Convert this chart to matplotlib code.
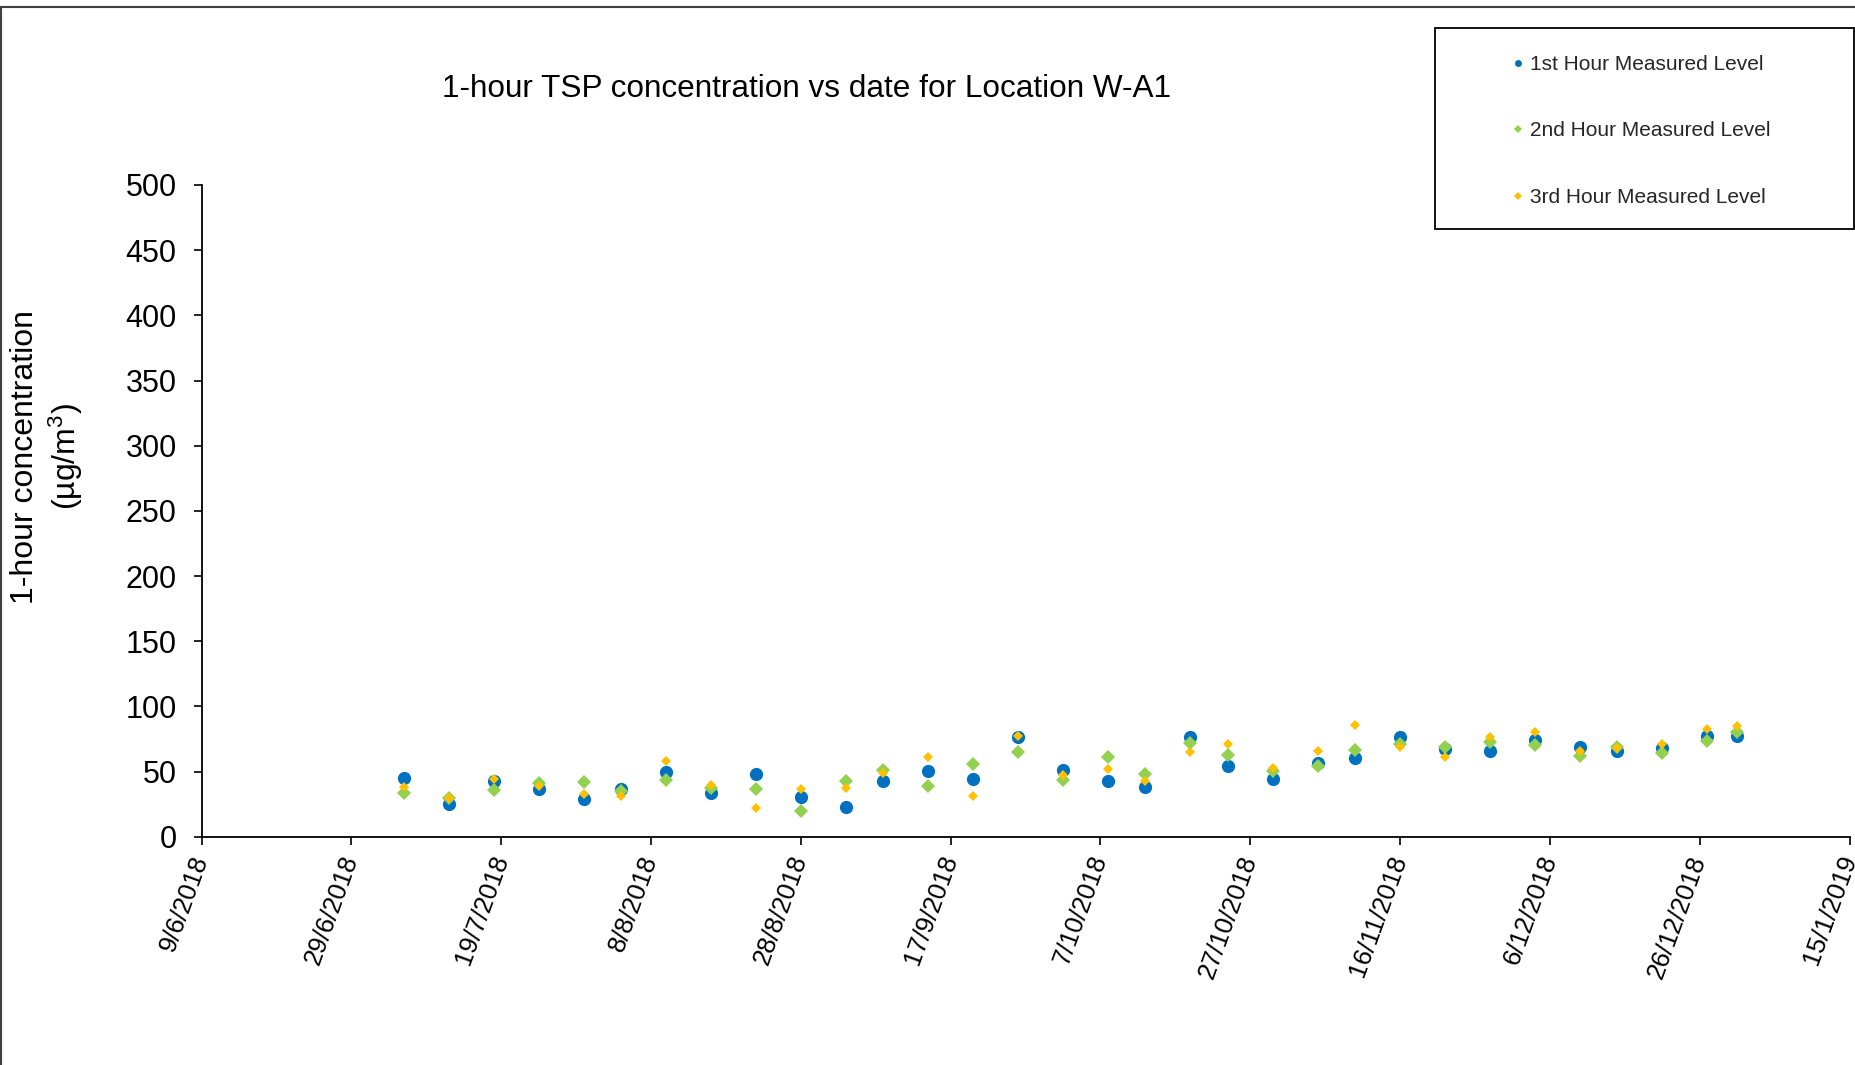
import datetime as dt
import matplotlib
matplotlib.use("Agg")
import matplotlib.pyplot as plt
from matplotlib.patches import Rectangle
from matplotlib.lines import Line2D

plt.rcParams["font.family"] = ["Liberation Sans", "DejaVu Sans"]
plt.rcParams["mathtext.default"] = "regular"

# sampling dates (day, month) in 2018
days = [6, 12, 18, 24, 30, 4, 10, 16, 22, 28, 3, 8, 14, 20, 26, 2,
        8, 13, 19, 24, 30, 5, 10, 16, 22, 28, 4, 10, 15, 21, 27, 31]
months = [7, 7, 7, 7, 7, 8, 8, 8, 8, 8, 9, 9, 9, 9, 9, 10,
          10, 10, 10, 10, 10, 11, 11, 11, 11, 11, 12, 12, 12, 12, 12, 12]

hour1 = [45.3, 25.1, 42.7, 36.3, 28.7, 36.3, 49.9, 33.3, 47.8, 30.7, 23.0,
         42.7, 50.6, 44.0, 76.2, 51.1, 42.9, 37.9, 76.7, 54.2, 44.0, 56.5,
         60.1, 76.7, 67.0, 66.0, 74.2, 69.0, 66.0, 67.8, 77.2, 77.2]
hour2 = [33.3, 29.4, 35.8, 40.9, 42.2, 35.3, 43.5, 37.1, 36.8, 19.7, 42.7,
         51.1, 39.1, 55.7, 64.7, 43.5, 61.3, 48.1, 72.1, 62.4, 50.6, 54.2,
         66.5, 71.1, 68.5, 72.4, 70.3, 61.9, 69.0, 64.4, 73.6, 80.5]
hour3 = [37.9, 30.0, 44.2, 38.9, 32.7, 31.2, 58.0, 39.6, 21.8, 36.3, 37.1,
         48.6, 61.3, 31.2, 77.5, 47.3, 51.9, 42.9, 64.7, 70.8, 52.9, 66.0,
         85.7, 69.0, 60.9, 76.2, 80.0, 65.7, 67.8, 71.1, 82.6, 84.9]

labels = ["1st Hour Measured Level", "2nd Hour Measured Level", "3rd Hour Measured Level"]
colors = ["#0070C0", "#92D050", "#FFC000"]

start = dt.date(2018, 6, 9)
end = dt.date(2019, 1, 15)
tick_dates = [start + dt.timedelta(days=20 * i) for i in range(12)]
dates = [dt.date(2018, m, d) for d, m in zip(days, months)]

W, H = 1856, 1065
fig = plt.figure(figsize=(W / 100, H / 100), dpi=100)
ax = fig.add_axes([201.6 / W, 1 - 836.7 / H, (1849.5 - 201.6) / W, (836.7 - 185) / H])

h1, = ax.plot(dates, hour1, linestyle="none", marker="o", ms=9.5, mew=0, color=colors[0])
h2, = ax.plot(dates, hour2, linestyle="none", marker="D", ms=6.8, mew=0, color=colors[1])
h3, = ax.plot(dates, hour3, linestyle="none", marker="D", ms=5.0, mew=0, color=colors[2])

ax.set_xlim(start, end)
ax.set_ylim(0, 500)
ax.set_yticks(range(0, 501, 50))
ax.set_xticks(tick_dates)
ax.set_xticklabels([f"{d.day}/{d.month}/{d.year}" for d in tick_dates],
                   rotation=70, ha="right", va="center", rotation_mode="anchor")
ax.tick_params(axis="y", labelsize=22, length=6, width=1.2, pad=12, direction="out")
ax.tick_params(axis="x", labelsize=18.5, length=6, width=1.2, pad=8, direction="out")
for s in ["top", "right"]:
    ax.spines[s].set_visible(False)
for s in ["left", "bottom"]:
    ax.spines[s].set_linewidth(1.3)
    ax.spines[s].set_color("black")

fig.text(807 / W, 1 - 89 / H, "1-hour TSP concentration vs date for Location W-A1",
         ha="center", va="center", fontsize=22.7)
fig.text(25 / W, 1 - 457 / H, "1-hour concentration", rotation=90,
         ha="center", va="center", fontsize=23)
fig.text(66 / W, 1 - 457 / H, "(µg/m$^{3}$)", rotation=90,
         ha="center", va="center", fontsize=23)

# legend frame + entries
fig.patches.append(Rectangle((1435 / W, 1 - 229 / H), (1854 - 1435) / W, 201 / H,
                             transform=fig.transFigure, fill=False,
                             edgecolor="black", linewidth=1.3))
handles = [Line2D([], [], linestyle="none", marker="o", ms=5, mew=0, color=colors[0]),
           Line2D([], [], linestyle="none", marker="D", ms=3.6, mew=0, color=colors[1]),
           Line2D([], [], linestyle="none", marker="D", ms=3.6, mew=0, color=colors[2])]
fig.legend(handles, labels, loc="upper left", bbox_to_anchor=(1510 / W, 1 - 55 / H),
           frameon=False, fontsize=15, handlelength=0.8, handletextpad=0.15,
           labelspacing=2.28, borderpad=0, borderaxespad=0, labelcolor="#262626")

# outer chart border (top and left)
fig.add_artist(Line2D([0.0008, 0.0008], [0, 1 - 7 / H], transform=fig.transFigure,
                      color="#404040", linewidth=1.5))
fig.add_artist(Line2D([0.0008, 1], [1 - 7 / H, 1 - 7 / H], transform=fig.transFigure,
                      color="#404040", linewidth=1.5))

fig.savefig("out.png", dpi=100)
